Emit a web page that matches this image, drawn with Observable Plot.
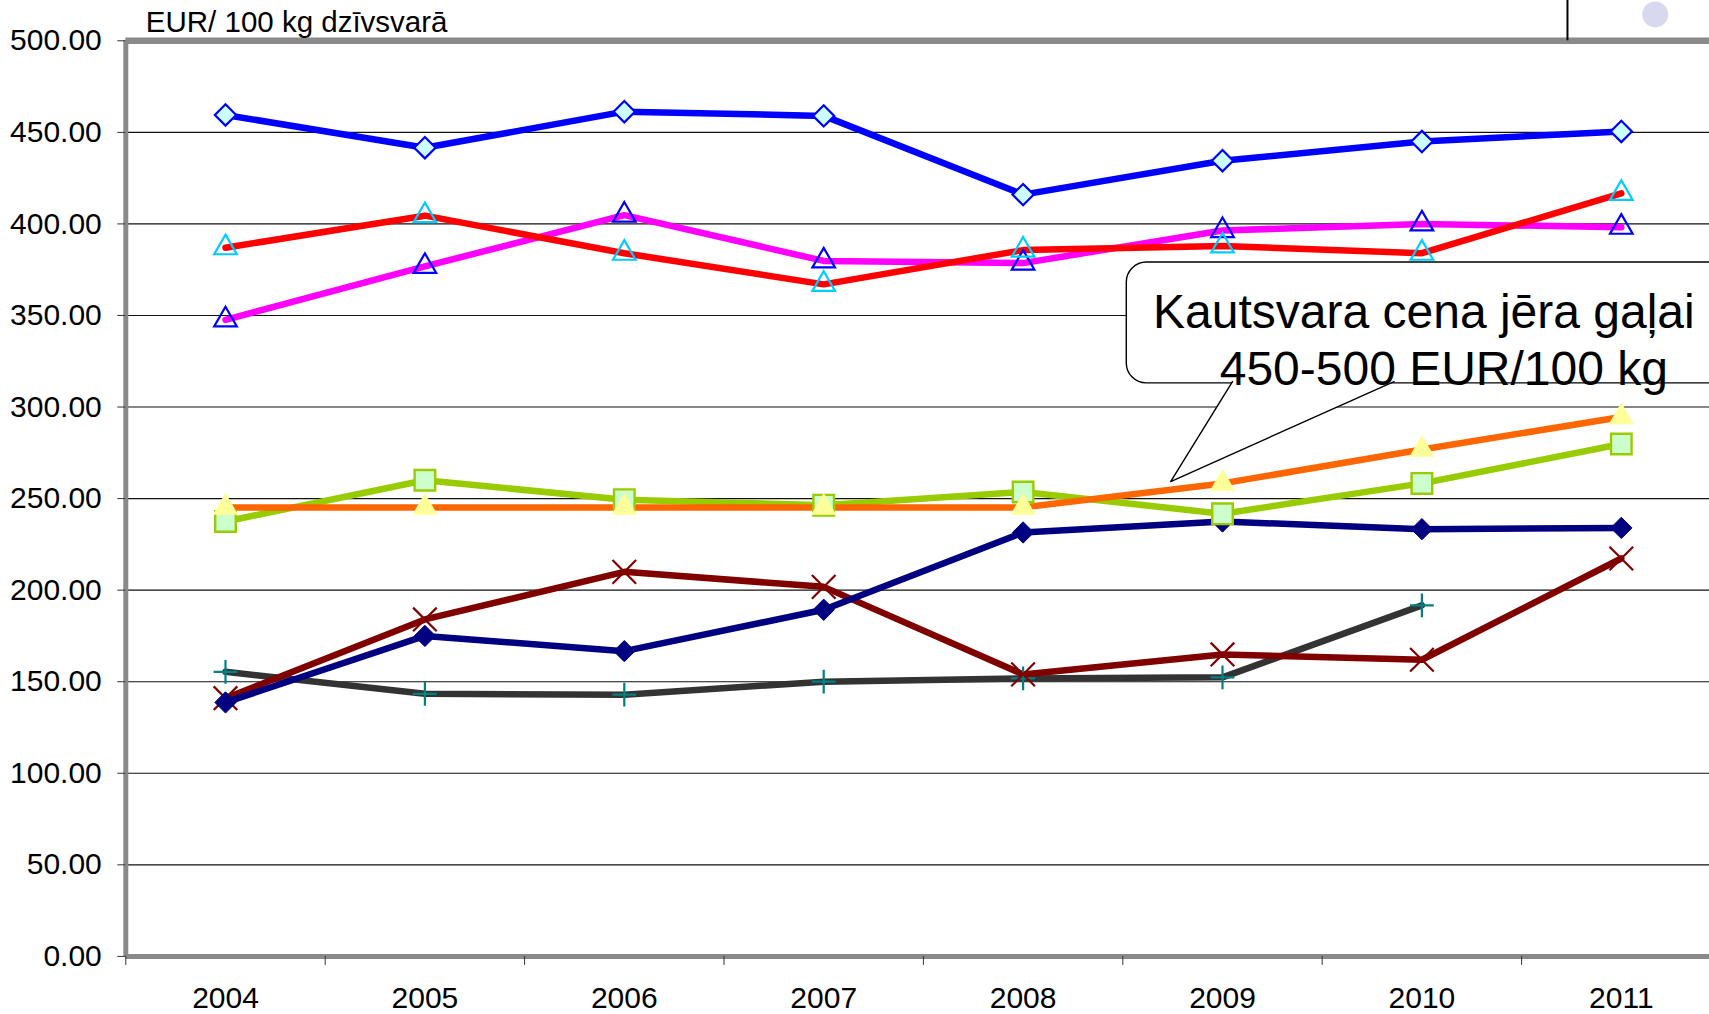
<!DOCTYPE html>
<html><head><meta charset="utf-8">
<script src="https://cdn.jsdelivr.net/npm/d3@7"></script>
<script src="https://cdn.jsdelivr.net/npm/@observablehq/plot@0.6"></script>
<style>
html,body{margin:0;padding:0;background:#fff;overflow:hidden;}
svg{overflow:hidden !important;}
</style>
</head><body><div id="chart"></div>
<script>
// ---- data ----
const years = [2004, 2005, 2006, 2007, 2008, 2009, 2010, 2011];
const blueDiamond   = [459.5, 441.6, 461.3, 459.0, 416.0, 434.5, 445.0, 450.5];
const redCyanTri    = [387.0, 404.5, 384.0, 367.0, 385.7, 388.0, 384.0, 416.7];
const magentaTri    = [347.6, 376.8, 404.8, 379.8, 378.6, 396.4, 400.0, 398.2];
const orangeTri     = [245.2, 245.2, 245.2, 245.2, 245.2, 258.3, 276.8, 294.6];
const greenSquare   = [237.5, 260.0, 249.4, 246.4, 253.6, 241.7, 258.3, 279.8];
const navyDiamond   = [138.7, 175.0, 166.7, 189.3, 231.5, 237.5, 233.3, 234.0];
const darkRedCross  = [141.0, 184.0, 210.0, 201.8, 154.0, 164.9, 162.0, 217.3];
const grayPlus      = [155.4, 143.4, 142.9, 150.0, 151.8, 152.4, 191.7, null];
const yTicks = [0, 50, 100, 150, 200, 250, 300, 350, 400, 450, 500];
const yTitle = "EUR/ 100 kg dzīvsvarā";
const calloutLines = ["Kautsvara cena jēra gaļai", "450-500 EUR/100 kg"];

// callout geometry in data units (year, value)
const calloutBox = {x1: 2008.52, x2: 2011.9, y1: 312.9, y2: 378.9};
const calloutPointer = [
  {year: 2009.05, value: 313.9},
  {year: 2008.74, value: 259.3},
  {year: 2009.86, value: 313.9}
];
const calloutText = [
  {year: 2010.01, value: 343.4, text: calloutLines[0]},
  {year: 2010.11, value: 311.8, text: calloutLines[1]}
];
const legendEdge = [{year: 2010.73}];
const legendDot = [{year: 2011.17, value: 514.4}];

// ---- series specs ----
const series = [
  {name: "s8", values: grayPlus,     line: "#333333", symbol: "plus",     r: 7.7,  fill: "none",    stroke: "#008080", sw: 2.2},
  {name: "s7", values: darkRedCross, line: "#800000", symbol: "times",    r: 10.8, fill: "none",    stroke: "#800000", sw: 2.2},
  {name: "s6", values: navyDiamond,  line: "#000080", symbol: "diamond2", r: 9.6,  fill: "#000080", stroke: "#000080", sw: 1},
  {name: "s5", values: greenSquare,  line: "#99cc00", symbol: "square",   r: 11.6, fill: "#ccffcc", stroke: "#99cc00", sw: 2.4},
  {name: "s4", values: orangeTri,    line: "#ff6600", symbol: "triangle", r: 8.8,  fill: "#ffff99", stroke: "#ffff99", sw: 1},
  {name: "s3", values: magentaTri,   line: "#ff00ff", symbol: "triangle", r: 8.4,  fill: "none",    stroke: "#0000ff", sw: 2.2},
  {name: "s2", values: redCyanTri,   line: "#ff0000", symbol: "triangle", r: 8.4,  fill: "none",    stroke: "#00ccff", sw: 2.2},
  {name: "s1", values: blueDiamond,  line: "#0000ff", symbol: "diamond2", r: 9.6,  fill: "#ccffff", stroke: "#0000ff", sw: 2.2}
];
const rows = s => years.map((year, i) => ({year, value: s.values[i]})).filter(d => d.value != null);

const boundaries = [...years.map(y => y - 0.5), years[years.length - 1] + 0.5];
const gridTicks = yTicks.filter(v => v > 0 && v < 500);

const W = 1709, H = 1014;
const padLeft = 125.3, bandW = 199.4, padTop = 40.3, axisBottom = 955.9;

const marks = [];
marks.push(Plot.ruleY(gridTicks, {stroke: "#111", strokeWidth: 1.1}));
for (const s of series) marks.push(Plot.line(rows(s), {x: "year", y: "value", stroke: s.line, strokeWidth: 6.5, strokeLinejoin: "round"}));
for (const s of series) marks.push(Plot.dot(rows(s), {x: "year", y: "value", symbol: () => s.symbol, r: s.r, fill: s.fill, stroke: s.stroke, strokeWidth: s.sw}));

// callout
marks.push(Plot.rect([calloutBox], {x1: "x1", x2: "x2", y1: "y1", y2: "y2", fill: "white", stroke: "black", strokeWidth: 1.4, rx: 20}));
marks.push(Plot.line(calloutPointer, {x: "year", y: "value", fill: "white", stroke: "none"}));
marks.push(Plot.line(calloutPointer, {x: "year", y: "value", stroke: "black", strokeWidth: 1.4}));
marks.push(Plot.text(calloutText, {x: "year", y: "value", text: "text", fontSize: 48, lineAnchor: "bottom", textAnchor: "middle", fill: "black"}));

// frame
marks.push(Plot.ruleY([0], {stroke: "#8a8a8a", strokeWidth: 5}));
marks.push(Plot.ruleY([500], {stroke: "#8a8a8a", strokeWidth: 6.5}));
marks.push(Plot.ruleX([boundaries[0]], {y1: 0, y2: 500, stroke: "#8a8a8a", strokeWidth: 5}));

// top-right legend remnants
marks.push(Plot.ruleX(legendEdge, {x: "year", y1: 500, y2: 540, stroke: "black", strokeWidth: 2}));
marks.push(Plot.dot(legendDot, {x: "year", y: "value", r: 13, fill: "#d8d8ee", stroke: "none"}));

// axes
marks.push(Plot.axisY(yTicks, {tickSize: 8, tickPadding: 16, tickFormat: d3.format(".2f"), fontSize: 30, label: null, stroke: "#333"}));
marks.push(Plot.axisX(boundaries, {tickSize: 9, tickFormat: () => "", label: null, stroke: "#333"}));
marks.push(Plot.axisX(years, {tickSize: 0, tickPadding: 30, tickFormat: d => String(d), fontSize: 30, label: null}));

// title
marks.push(Plot.text([yTitle], {frameAnchor: "top-left", dx: 20, dy: -9, text: d => d, fontSize: 29.5, lineAnchor: "bottom", textAnchor: "start", fill: "black"}));

const chart = Plot.plot({
  width: W, height: H,
  marginLeft: padLeft, marginRight: 0, marginTop: padTop, marginBottom: H - axisBottom,
  x: {type: "linear", domain: [boundaries[0], boundaries[boundaries.length - 1]], range: [padLeft, padLeft + bandW * years.length]},
  y: {type: "linear", domain: [0, 500], range: [axisBottom, padTop]},
  style: {fontFamily: "'Liberation Sans', Arial, sans-serif", background: "white", overflow: "hidden", color: "black"},
  marks
});
document.getElementById("chart").appendChild(chart);
</script>
</body></html>
